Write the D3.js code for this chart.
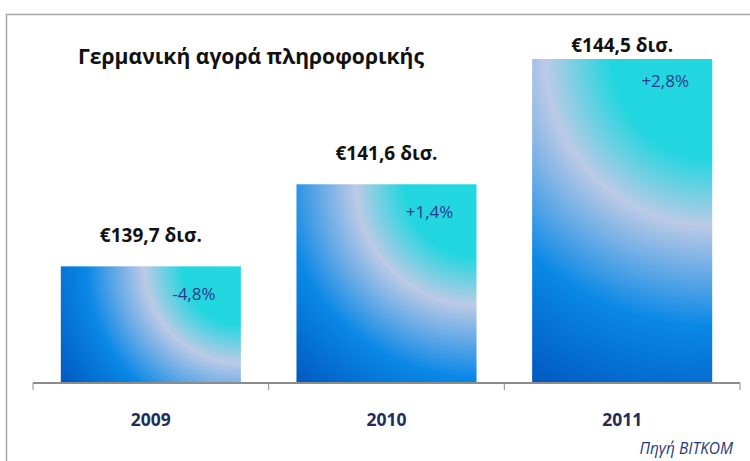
<!DOCTYPE html>
<html>
<head>
<meta charset="utf-8">
<script src="https://cdn.jsdelivr.net/npm/d3@7"></script>
<style>
  body { margin: 0; background: #fff; }
  svg { display: block; font-family: "Open Sans", "Noto Sans", sans-serif; }
</style>
</head>
<body>
<script>
// data
var years = ["2009", "2010", "2011"];
var values = [139.7, 141.6, 144.5];
var valueLabels = ["€139,7 δισ.", "€141,6 δισ.", "€144,5 δισ."];
var changeLabels = ["-4,8%", "+1,4%", "+2,8%"];
var title = "Γερμανική αγορά πληροφορικής";
var source = "Πηγή BITKOM";

var W = 750, H = 461;
var svg = d3.select("body").append("svg")
    .attr("width", W)
    .attr("height", H);

// frame (only top and left edges are in view)
svg.append("path")
    .attr("d", "M6.5," + H + " V14.5 H" + W)
    .style("fill", "none")
    .style("stroke", "#a6a6a6")
    .style("stroke-width", 1.5);

var x = d3.scaleBand()
    .domain(years)
    .range([33, 740])
    .paddingInner(0.236)
    .paddingOuter(0.118);

var y = d3.scaleLinear()
    .domain([137, 144.5])
    .range([383, 59]);

var data = years.map(function(yr, i) {
    return { year: yr, value: values[i], label: valueLabels[i], change: changeLabels[i] };
});

var defs = svg.append("defs");

// one radial gradient per bar, centred at its top-right corner
data.forEach(function(d, i) {
    var x0 = x(d.year), w = x.bandwidth(), top = y(d.value), h = y.range()[0] - top;
    var r = Math.sqrt(w * w + h * h);
    var g = defs.append("radialGradient")
        .attr("id", "grad" + i)
        .attr("gradientUnits", "userSpaceOnUse")
        .attr("cx", x0 + w).attr("cy", top)
        .attr("fx", x0 + w).attr("fy", top)
        .attr("r", r);
    [[0, "#22d8e0"], [0.27, "#22d6e0"], [0.45, "#bccae6"], [0.72, "#0a88e6"], [1, "#0058c0"]]
        .forEach(function(s) {
            g.append("stop").attr("offset", s[0]).attr("stop-color", s[1]);
        });
});

var bars = svg.append("g");

bars.selectAll("rect")
    .data(data)
    .enter().append("rect")
    .attr("x", function(d) { return x(d.year); })
    .attr("y", function(d) { return y(d.value); })
    .attr("width", x.bandwidth())
    .attr("height", function(d) { return y.range()[0] - y(d.value); })
    .style("fill", function(d, i) { return "url(#grad" + i + ")"; });

// axis line with ticks between categories
var ticks = [x.range()[0]].concat(years.slice(1).map(function(yr) {
    return x(yr) - x.step() * x.paddingInner() / 2;
})).concat([x.range()[1]]);

var axis = svg.append("g");
axis.append("line")
    .attr("x1", x.range()[0]).attr("x2", x.range()[1])
    .attr("y1", y.range()[0]).attr("y2", y.range()[0])
    .style("stroke", "#8c8c8c")
    .style("stroke-width", 2);
axis.selectAll(".tick")
    .data(ticks)
    .enter().append("line")
    .attr("class", "tick")
    .attr("x1", function(d) { return d; }).attr("x2", function(d) { return d; })
    .attr("y1", y.range()[0]).attr("y2", y.range()[0] + 7)
    .style("stroke", "#8c8c8c")
    .style("stroke-width", 1);

axis.selectAll(".cat")
    .data(years)
    .enter().append("text")
    .attr("class", "cat")
    .attr("x", function(d) { return x(d) + x.bandwidth() / 2; })
    .attr("y", 426)
    .attr("text-anchor", "middle")
    .style("font-size", "17.5px")
    .style("font-weight", "bold")
    .style("fill", "#1f2d5c")
    .text(function(d) { return d; });

// value labels above bars (pushed down when they would run out of the top)
svg.selectAll(".val")
    .data(data)
    .enter().append("text")
    .attr("class", "val")
    .attr("x", function(d) { return x(d.year) + x.bandwidth() / 2; })
    .attr("y", function(d) { return Math.max(y(d.value) - 24, 52); })
    .attr("text-anchor", "middle")
    .style("font-size", "19px")
    .style("font-weight", "bold")
    .style("fill", "#111")
    .text(function(d) { return d.label; });

// change labels inside bars
svg.selectAll(".chg")
    .data(data)
    .enter().append("text")
    .attr("class", "chg")
    .attr("x", function(d) { return x(d.year) + x.bandwidth() - 47; })
    .attr("y", function(d, i) { return y(d.value) + (i == 2 ? 28 : 34); })
    .attr("text-anchor", "middle")
    .style("font-size", "17px")
    .style("fill", "#2b3a8c")
    .text(function(d) { return d.change; });

svg.append("text")
    .attr("x", 78)
    .attr("y", 64)
    .attr("textLength", 346)
    .attr("lengthAdjust", "spacingAndGlyphs")
    .style("font-size", "21px")
    .style("font-weight", "bold")
    .style("fill", "#111")
    .text(title);

svg.append("text")
    .attr("x", 733)
    .attr("y", 454)
    .attr("text-anchor", "end")
    .style("font-size", "15.5px")
    .style("font-style", "italic")
    .style("fill", "#1f3a7a")
    .text(source);
</script>
</body>
</html>
